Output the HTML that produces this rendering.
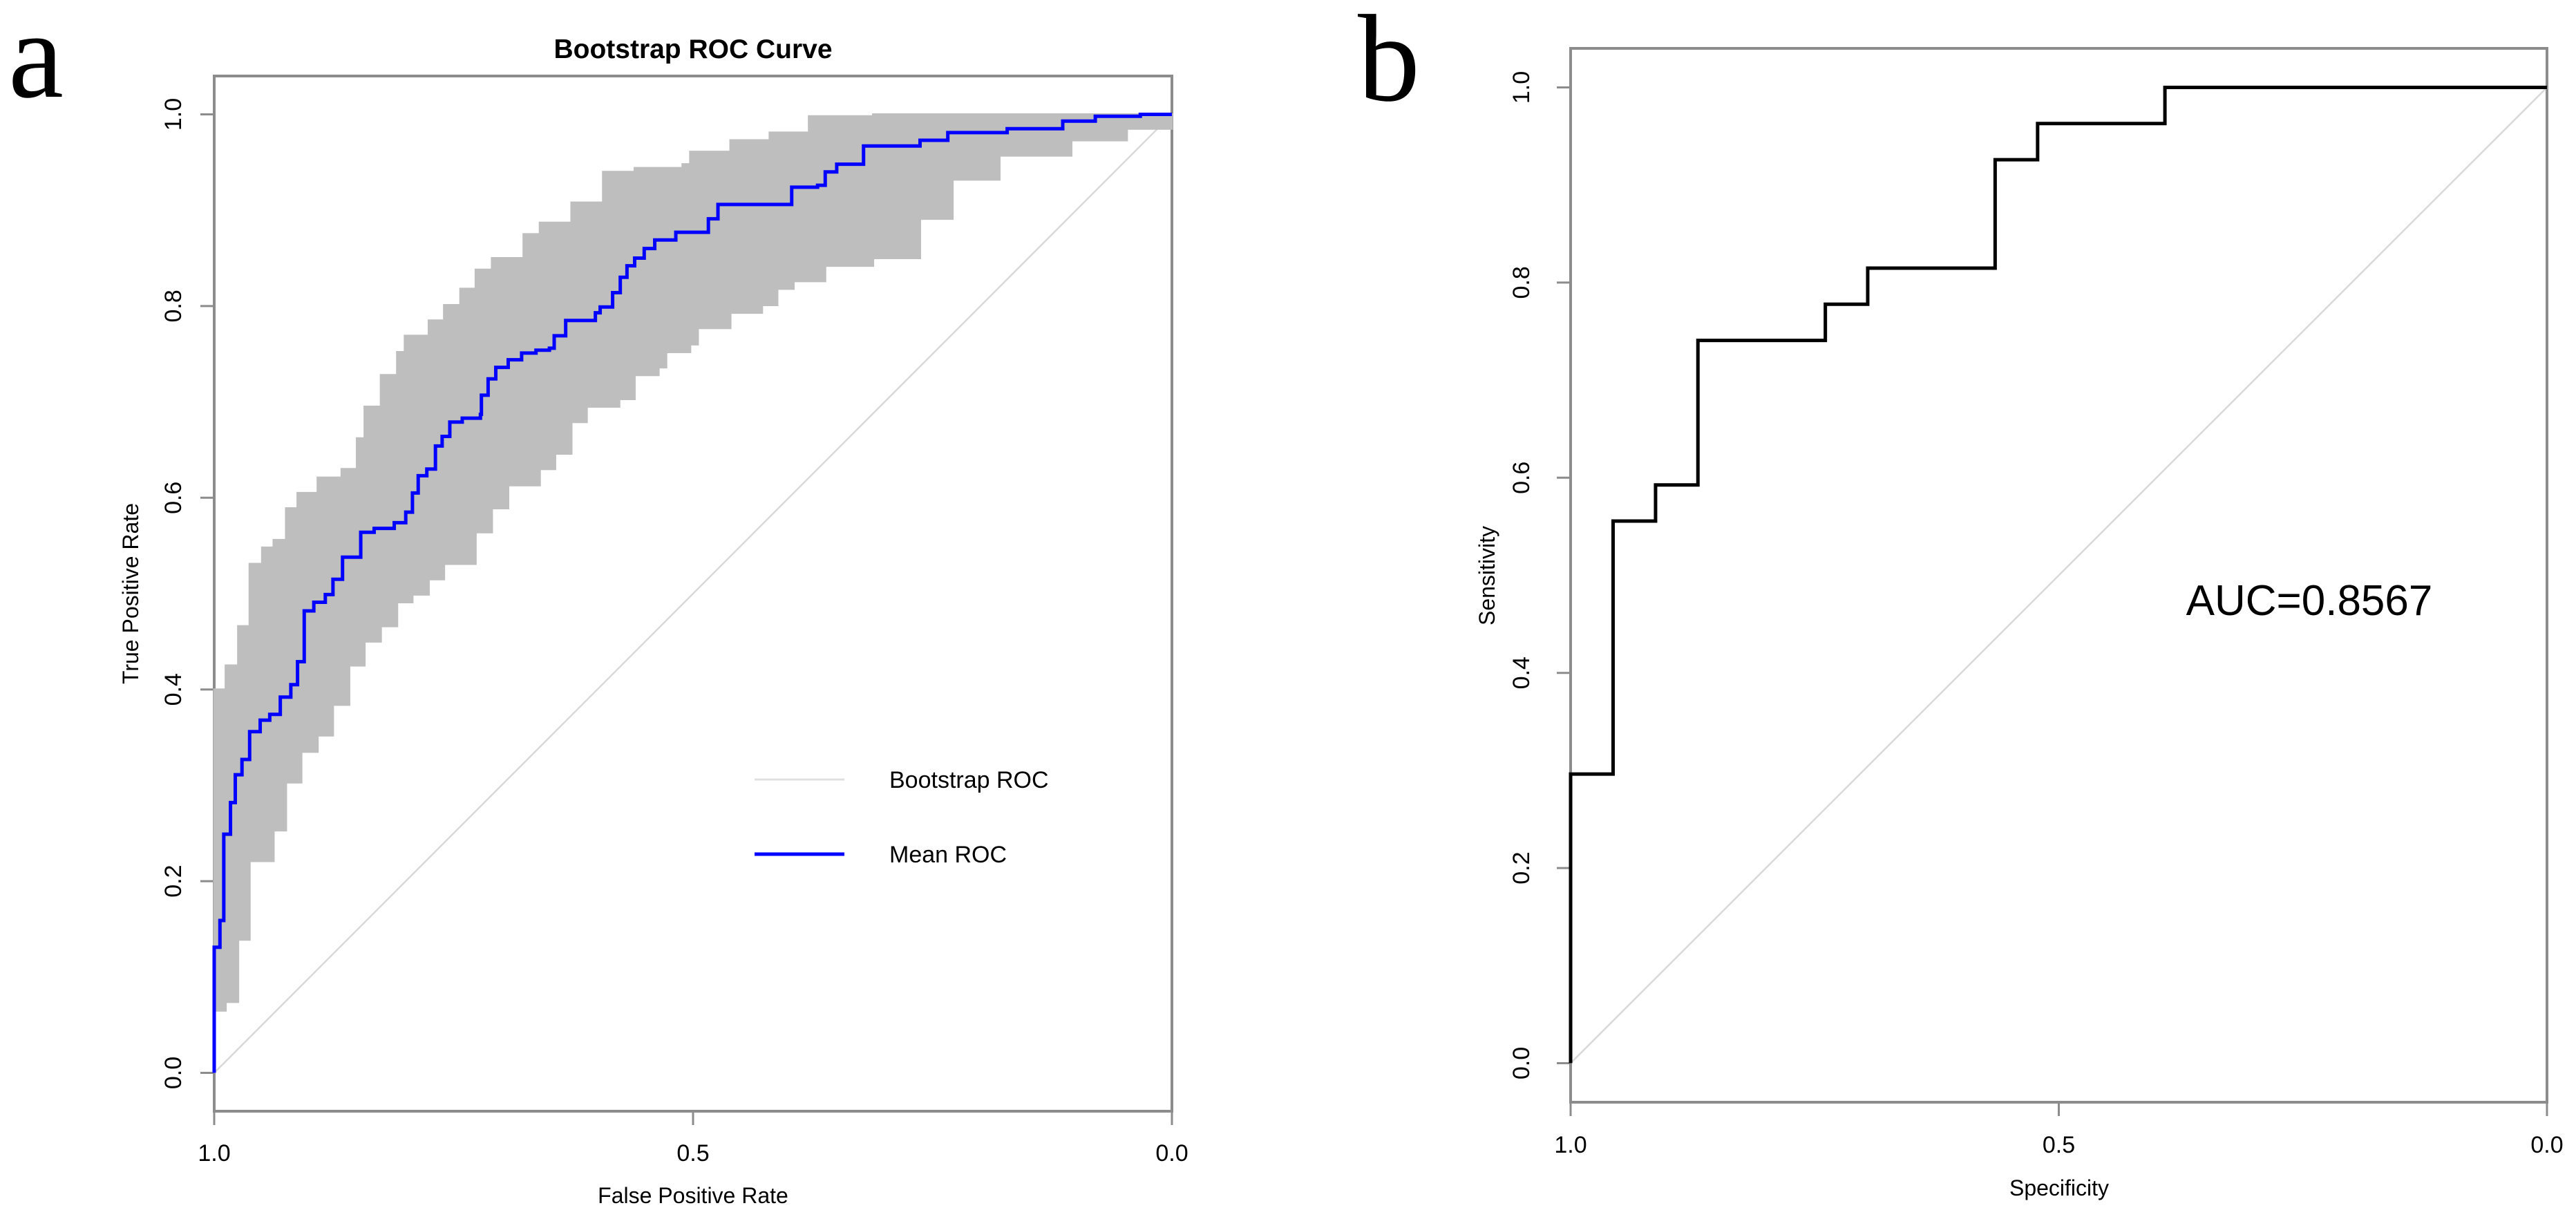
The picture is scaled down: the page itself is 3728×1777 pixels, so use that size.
<!DOCTYPE html>
<html><head><meta charset="utf-8">
<style>
html,body{margin:0;padding:0;background:#fff;}
svg{display:block;}
text{font-family:"Liberation Sans",sans-serif;fill:#000;}
</style></head>
<body>
<svg id="fig" width="3728" height="1777" viewBox="0 0 3728 1777" xmlns="http://www.w3.org/2000/svg">
<rect width="3728" height="1777" fill="#fff"/>
<text x="52" y="140" font-family="Liberation Serif,serif" font-size="180" style="font-family:'Liberation Serif',serif" text-anchor="middle">a</text>
<text x="2010" y="145" font-size="180" style="font-family:'Liberation Serif',serif" text-anchor="middle">b</text>
<text x="1003" y="84" font-size="39" font-weight="bold" text-anchor="middle">Bootstrap ROC Curve</text>
<g id="pa"></g>
<g id="pb"></g>
<text x="1003" y="1741" font-size="32" text-anchor="middle">False Positive Rate</text>
<text transform="translate(200,859) rotate(-90)" font-size="32" text-anchor="middle">True Positive Rate</text>
<text x="2980" y="1730" font-size="32" text-anchor="middle">Specificity</text>
<text transform="translate(2163,833) rotate(-90)" font-size="32" text-anchor="middle">Sensitivity</text>
<text x="3342" y="890" font-size="62" text-anchor="middle">AUC=0.8567</text>
<g>
<line x1="1092" y1="1128" x2="1222" y2="1128" stroke="#e0e0e0" stroke-width="3"/>
<text x="1287" y="1140" font-size="34">Bootstrap ROC</text>
<line x1="1092" y1="1236" x2="1222" y2="1236" stroke="#0000ff" stroke-width="5"/>
<text x="1287" y="1248" font-size="34">Mean ROC</text>
</g>
</svg>
<script>
// Panel a: mean ROC (x-axis value, reversed 1 -> 0) and TPR
const meanX = [1.000,1.000,0.994,0.990,0.983,0.978,0.971,0.963,0.952,0.942,0.931,0.920,0.913,0.906,0.896,0.884,0.876,0.866,0.847,0.833,0.812,0.800,0.793,0.787,0.778,0.769,0.762,0.754,0.741,0.722,0.721,0.714,0.706,0.693,0.679,0.664,0.650,0.645,0.633,0.602,0.597,0.584,0.576,0.569,0.561,0.551,0.540,0.518,0.484,0.474,0.397,0.370,0.362,0.350,0.322,0.263,0.234,0.172,0.114,0.080,0.033,0.000];
const meanY = [0.000,0.131,0.159,0.249,0.282,0.311,0.327,0.356,0.368,0.374,0.392,0.405,0.429,0.482,0.491,0.499,0.515,0.538,0.564,0.568,0.574,0.585,0.605,0.623,0.630,0.654,0.664,0.679,0.683,0.687,0.707,0.724,0.736,0.744,0.751,0.754,0.756,0.769,0.785,0.793,0.799,0.814,0.830,0.842,0.850,0.860,0.869,0.877,0.891,0.906,0.924,0.926,0.940,0.948,0.967,0.973,0.981,0.985,0.993,0.998,1.000,1.000];
// Bootstrap band envelopes
const upperX = [1.000,0.988,0.975,0.963,0.950,0.938,0.925,0.913,0.892,0.867,0.851,0.843,0.826,0.809,0.801,0.776,0.760,0.743,0.727,0.710,0.677,0.660,0.627,0.594,0.561,0.511,0.503,0.461,0.420,0.379,0.312,0.000];
const upperY = [0.400,0.425,0.466,0.531,0.548,0.556,0.589,0.605,0.621,0.630,0.662,0.695,0.728,0.752,0.769,0.785,0.801,0.818,0.838,0.850,0.875,0.887,0.908,0.940,0.944,0.948,0.961,0.973,0.981,0.998,1.000,1.000];
const lowerX = [1.000,0.988,0.975,0.963,0.942,0.938,0.925,0.909,0.892,0.876,0.859,0.843,0.826,0.809,0.793,0.776,0.760,0.727,0.710,0.693,0.660,0.644,0.627,0.611,0.577,0.561,0.536,0.528,0.503,0.495,0.461,0.428,0.412,0.395,0.362,0.312,0.263,0.229,0.180,0.105,0.047,0.000];
const lowerY = [0.065,0.074,0.139,0.221,0.221,0.253,0.303,0.335,0.352,0.384,0.425,0.450,0.466,0.491,0.499,0.515,0.531,0.564,0.589,0.613,0.630,0.646,0.679,0.695,0.703,0.728,0.736,0.752,0.760,0.777,0.793,0.801,0.818,0.826,0.842,0.850,0.891,0.932,0.957,0.973,0.985,1.000];
// Panel b: ROC (specificity, sensitivity)
const specB = [1,1,0.9565,0.9565,0.9130,0.9130,0.8696,0.8696,0.7391,0.7391,0.6957,0.6957,0.5652,0.5652,0.5217,0.5217,0.3913,0.3913,0];
const sensB = [0,0.2963,0.2963,0.5556,0.5556,0.5926,0.5926,0.7407,0.7407,0.7778,0.7778,0.8148,0.8148,0.9259,0.9259,0.9630,0.9630,1,1];
const xTicks = [1.0,0.5,0.0];
const xTickLabels = ["1.0","0.5","0.0"];
const yTicks = [0,0.2,0.4,0.6,0.8,1.0];
const yTickLabels = ["0.0","0.2","0.4","0.6","0.8","1.0"];

const NS="http://www.w3.org/2000/svg";
function mk(tag, attrs, parent){const e=document.createElementNS(NS,tag);for(const k in attrs)e.setAttribute(k,attrs[k]);parent.appendChild(e);return e;}

function panel(g, box, y1, y0, tickLabelY, yLabX, pfx){
  const sx=v=>box.r-(v)*(box.r-box.l); // value 1 -> left, 0 -> right
  const sy=v=>y0-v*(y0-y1);
  return {sx,sy,draw(){
    const fr=mk('rect',{x:box.l,y:box.t,width:box.r-box.l,height:box.b-box.t,fill:'none',stroke:'#8c8c8c','stroke-width':4},g);
    
    
    xTicks.forEach((t,i)=>{
      const l=mk('line',{x1:sx(t),x2:sx(t),y1:box.b,y2:box.b+20,stroke:'#8c8c8c','stroke-width':3},g);
      
      
      const tx=mk('text',{x:sx(t),y:tickLabelY,'font-size':34,'text-anchor':'middle'},g);
      tx.textContent=xTickLabels[i];
      
      
    });
    yTicks.forEach((t,i)=>{
      const l=mk('line',{x1:box.l-20,x2:box.l,y1:sy(t),y2:sy(t),stroke:'#8c8c8c','stroke-width':3},g);
      
      
      const tx=mk('text',{transform:`translate(${yLabX},${sy(t)}) rotate(-90)`,'font-size':34,'text-anchor':'middle'},g);
      tx.textContent=yTickLabels[i];
      
      
    });
    const d=mk('line',{x1:sx(1),y1:sy(0),x2:sx(0),y2:sy(1),stroke:'#d9d9d9','stroke-width':2.5},g);
    
    
  }};
}
function stepPath(xs,ys,sx,sy){let d=`M${sx(xs[0])},${sy(ys[0])}`;for(let i=1;i<xs.length;i++){d+=` H${sx(xs[i])} V${sy(ys[i])}`;}return d;}

// Panel a
const ga=document.getElementById('pa');
const A=panel(ga,{l:310,r:1696,t:110,b:1608},165.5,1552.5,1680,262,'panel-a');
A.draw();
let band=stepPath(upperX,upperY,A.sx,A.sy);
for(let i=lowerX.length-1;i>=0;i--){band+=` V${A.sy(lowerY[i])} H${A.sx(lowerX[i])}`;}
band+=' Z';
const bp=mk('path',{d:band,fill:'#bebebe',stroke:'#bebebe','stroke-width':3},ga);


const mp=mk('path',{d:stepPath(meanX,meanY,A.sx,A.sy),fill:'none',stroke:'#0000ff','stroke-width':5},ga);



// Panel b
const gb=document.getElementById('pb');
const B=panel(gb,{l:2273,r:3686,t:70,b:1595},126.5,1538.5,1668,2213,'panel-b');
B.draw();
let db=`M${B.sx(specB[0])},${B.sy(sensB[0])}`;
for(let i=1;i<specB.length;i++){db+=` L${B.sx(specB[i])},${B.sy(sensB[i])}`;}
const rp=mk('path',{d:db,fill:'none',stroke:'#000','stroke-width':5},gb);


</script>
</body></html>
